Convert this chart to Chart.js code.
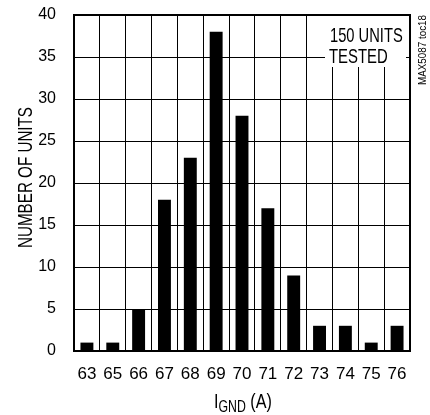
<!DOCTYPE html>
<html>
<head>
<meta charset="utf-8">
<script src="https://cdn.jsdelivr.net/npm/chart.js@4.4.0/dist/chart.umd.min.js"></script>
<style>
  html, body { margin: 0; padding: 0; background: #fff; }
  #wrap { width: 430px; height: 415px; }
</style>
</head>
<body>
<div id="wrap"><canvas id="c" width="430" height="415"></canvas></div>
<script>
// ---- data ----
const categories = ['63', '65', '66', '67', '68', '69', '70', '71', '72', '73', '74', '75', '76'];
const unitCounts = [1, 1, 5, 18, 23, 38, 28, 17, 9, 3, 3, 1, 3];
const yMin = 0;
const yMax = 40;
const yStep = 5;
const yTitle = 'NUMBER OF UNITS';
const xTitleMain = 'I';
const xTitleSub = 'GND';
const xTitleTail = ' (A)';
const noteLines = ['150 UNITS', 'TESTED'];
const figureId = 'MAX5087 toc18';

const FONT = '"Liberation Sans", Arial, Helvetica, sans-serif';

function drawScaled(ctx, text, x, y, size, sx, align) {
  ctx.save();
  ctx.font = size + 'px ' + FONT;
  ctx.translate(x, y);
  ctx.scale(sx, 1);
  ctx.textAlign = align || 'left';
  ctx.textBaseline = 'alphabetic';
  ctx.fillText(text, 0, 0);
  ctx.restore();
}

const decorPlugin = {
  id: 'decor',
  afterDatasetsDraw(chart) {
    const ctx = chart.ctx;
    const a = chart.chartArea;
    ctx.save();
    // white note box covering gridlines
    ctx.fillStyle = '#fff';
    ctx.fillRect(325, 16, 81, 51);
    // frame
    ctx.strokeStyle = '#000';
    ctx.lineWidth = 2;
    ctx.strokeRect(a.left, a.top, a.right - a.left, a.bottom - a.top);
    ctx.fillStyle = '#000';
    // note text
    drawScaled(ctx, noteLines[0], 330, 41.5, 21, 0.70, 'left');
    drawScaled(ctx, noteLines[1], 329, 63, 21, 0.71, 'left');
    // y title (rotated)
    ctx.save();
    ctx.translate(31.5, 177.5);
    ctx.rotate(-Math.PI / 2);
    ctx.font = '21px ' + FONT;
    const w = ctx.measureText(yTitle).width;
    ctx.scale(141 / w, 1);
    ctx.textAlign = 'center';
    ctx.textBaseline = 'alphabetic';
    ctx.fillText(yTitle, 0, 0);
    ctx.restore();
    // x title with subscript
    ctx.save();
    ctx.translate(214, 408);
    ctx.scale(0.77, 1);
    ctx.textBaseline = 'alphabetic';
    ctx.textAlign = 'left';
    ctx.font = '21px ' + FONT;
    let cx = 0;
    ctx.fillText(xTitleMain, cx, 0);
    cx += ctx.measureText(xTitleMain).width;
    ctx.font = '16px ' + FONT;
    ctx.fillText(xTitleSub, cx, 3.5);
    cx += ctx.measureText(xTitleSub).width;
    ctx.font = '21px ' + FONT;
    ctx.fillText(xTitleTail, cx, 0);
    ctx.restore();
    // figure id (rotated)
    ctx.save();
    ctx.translate(425.5, 50);
    ctx.rotate(-Math.PI / 2);
    ctx.font = '10px ' + FONT;
    const wi = ctx.measureText(figureId).width;
    ctx.scale(70 / wi, 1);
    ctx.textAlign = 'center';
    ctx.textBaseline = 'alphabetic';
    ctx.fillText(figureId, 0, 0);
    ctx.restore();
    ctx.restore();
  }
};

new Chart(document.getElementById('c'), {
  type: 'bar',
  data: {
    labels: categories,
    datasets: [{
      data: unitCounts,
      backgroundColor: '#000',
      borderWidth: 0,
      barPercentage: 1.0,
      categoryPercentage: 0.5
    }]
  },
  options: {
    responsive: false,
    animation: false,
    events: [],
    layout: { padding: { left: 0, right: 20, top: 15, bottom: 0 } },
    plugins: { legend: { display: false }, tooltip: { enabled: false } },
    scales: {
      x: {
        offset: true,
        grid: { color: '#000', lineWidth: 1, offset: true, drawTicks: false },
        border: { display: false },
        ticks: { color: '#000', font: { family: FONT, size: 17 }, padding: 13, maxRotation: 0, autoSkip: false },
        afterFit(scale) { scale.height = 64; scale.paddingLeft = 0; scale.paddingRight = 0; }
      },
      y: {
        min: yMin,
        max: yMax,
        grid: { color: '#000', lineWidth: 1, drawTicks: false },
        border: { display: false },
        ticks: { stepSize: yStep, color: '#000', font: { family: FONT, size: 16 }, padding: 18 },
        afterFit(scale) { scale.width = 74; scale.paddingTop = 0; scale.paddingBottom = 0; }
      }
    }
  },
  plugins: [decorPlugin]
});
</script>
</body>
</html>
